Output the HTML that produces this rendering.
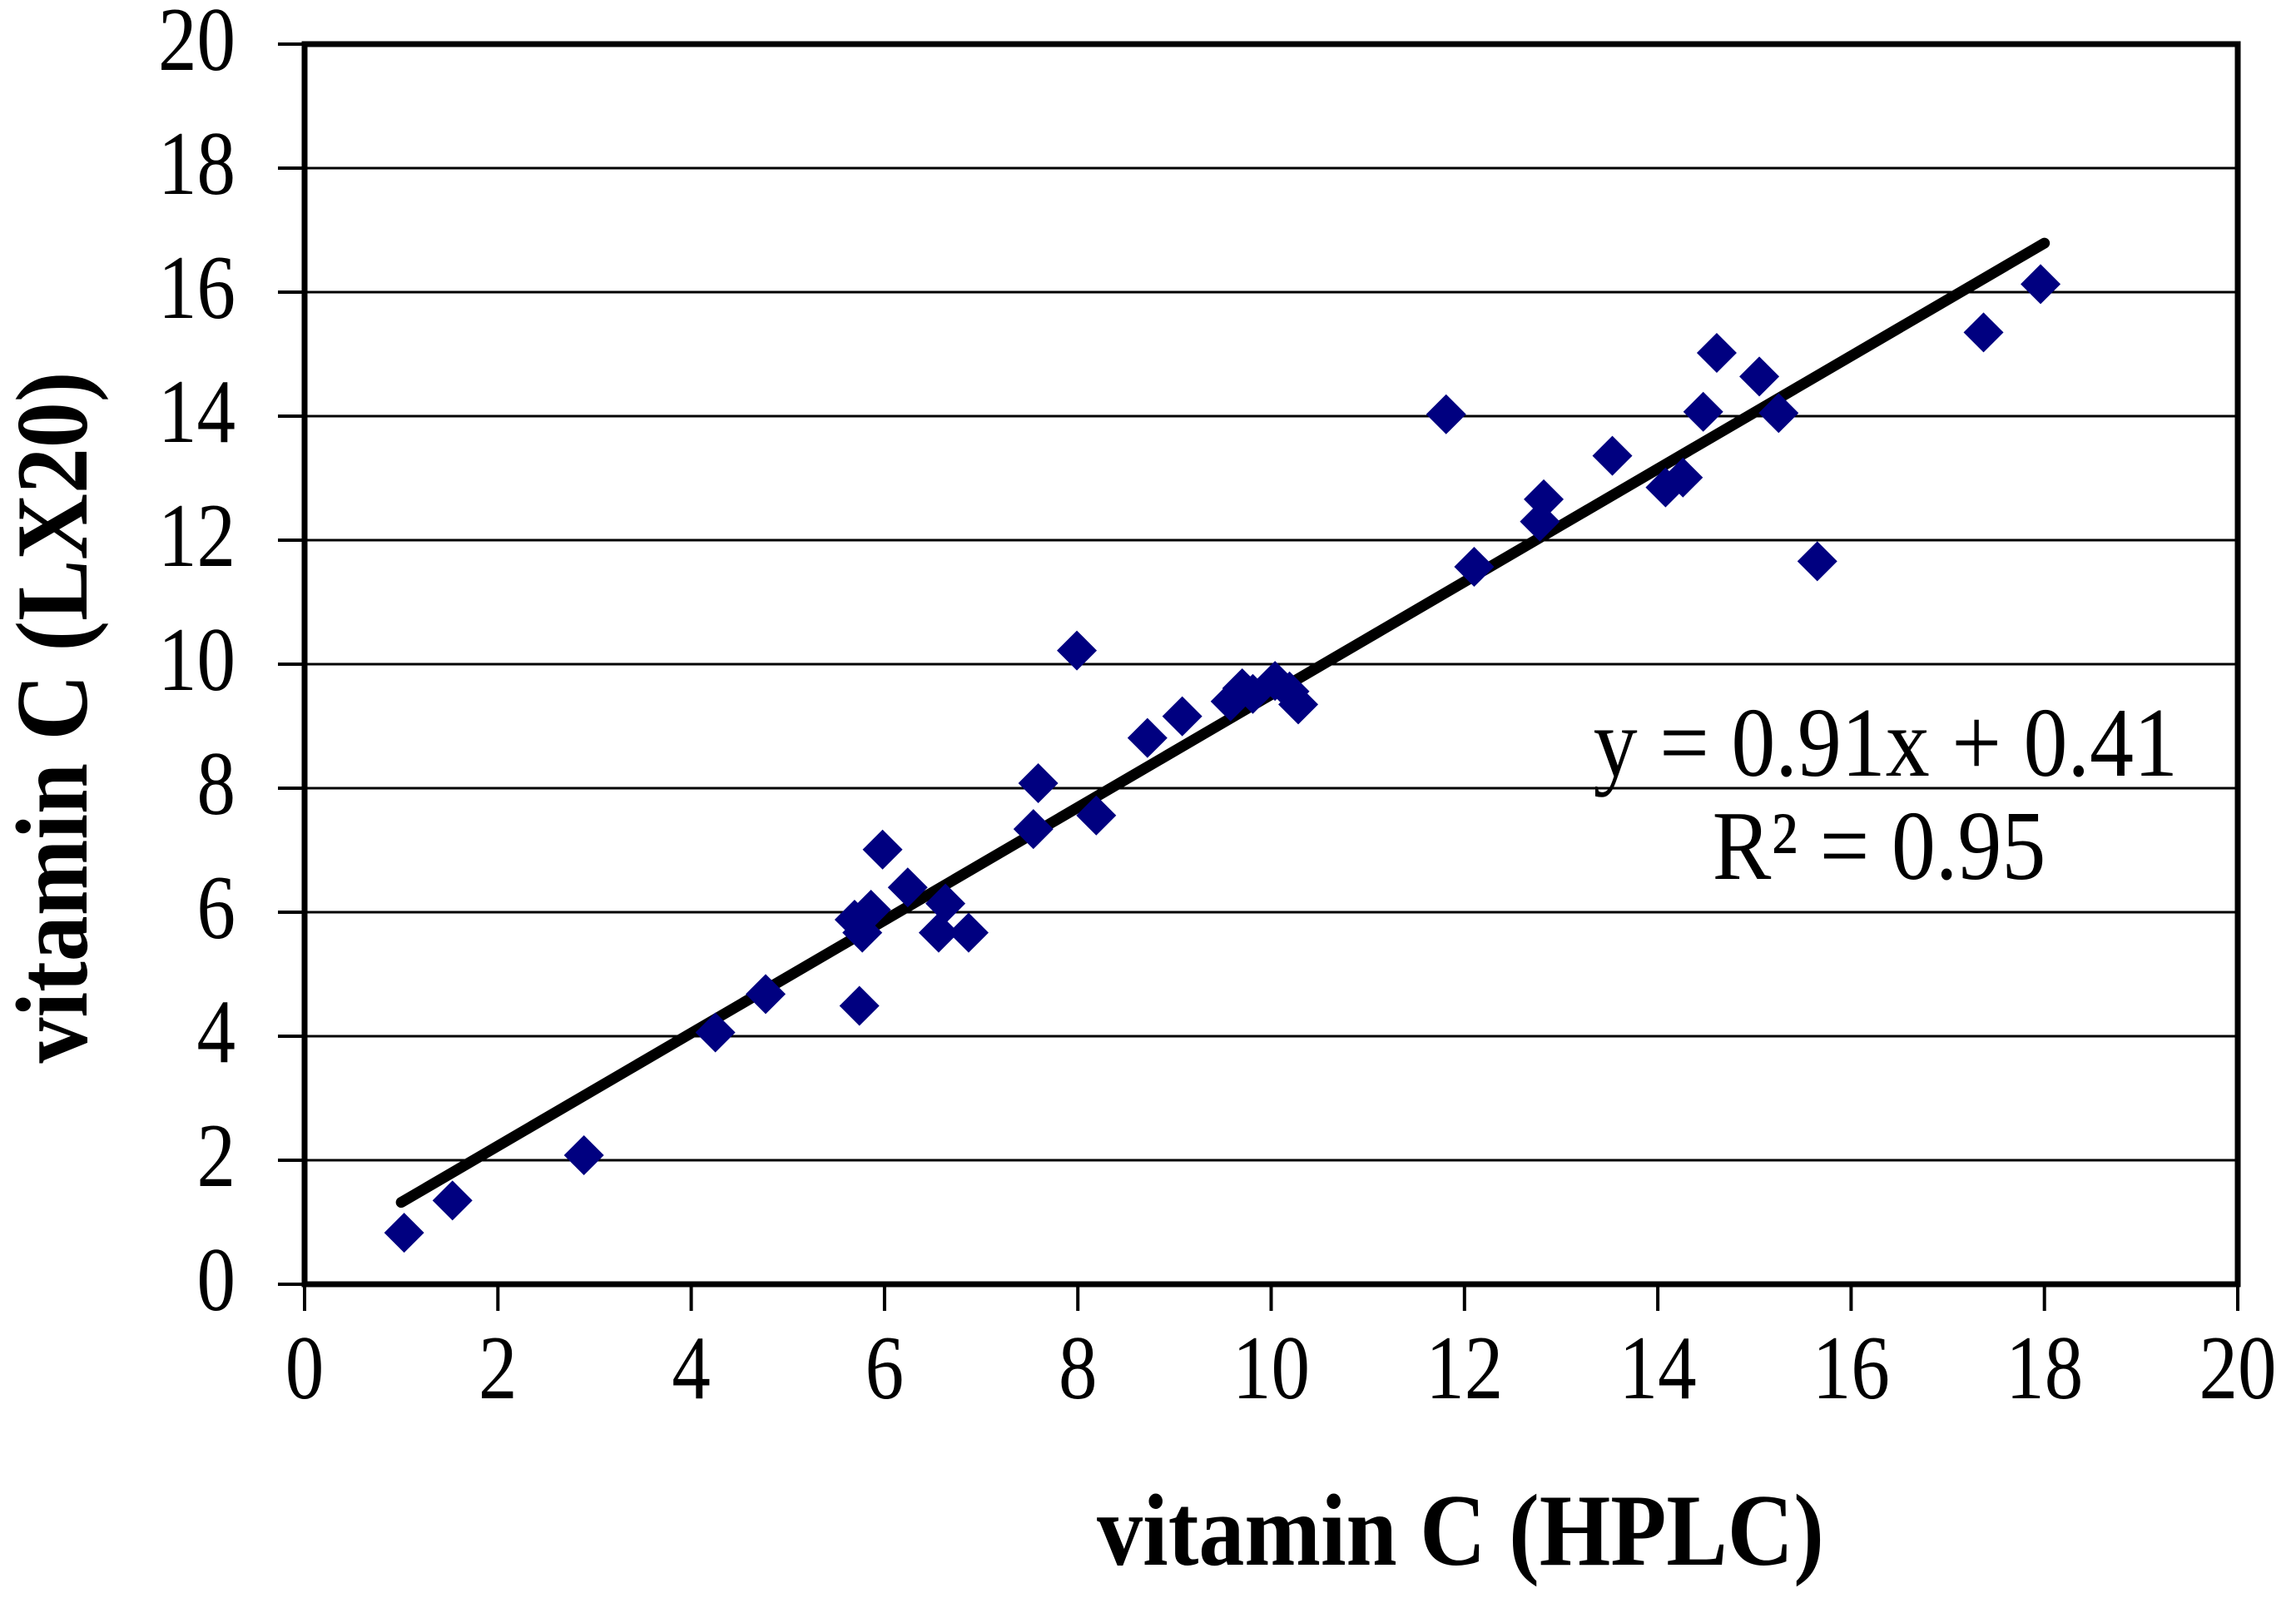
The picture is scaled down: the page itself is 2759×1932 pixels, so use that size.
<!DOCTYPE html>
<html><head><meta charset="utf-8"><style>html,body{margin:0;padding:0;background:#fff}svg{display:block}</style></head>
<body>
<svg id="chart" width="2759" height="1932" viewBox="0 0 2759 1932" xmlns="http://www.w3.org/2000/svg" font-family="'Liberation Serif', serif">
<rect x="0" y="0" width="2759" height="1932" fill="#fff"/>
<g id="grid"></g>
<g id="axes"></g>
<g id="trend"></g>
<g id="points"></g>
<g transform="translate(1755,1880) scale(1,1.12)"><text x="0" y="0" font-size="110" font-weight="bold" text-anchor="middle">vitamin C (HPLC)</text></g>
<g transform="translate(104,862) rotate(-90) scale(1,1.12)"><text x="0" y="0" font-size="110" font-weight="bold" text-anchor="middle">vitamin C (LX20)</text></g>
<g transform="translate(2617,932) scale(1,1.12)"><text x="0" y="0" font-size="106" text-anchor="end">y = 0.91x + 0.41</text></g>
<g transform="translate(2258,1056) scale(1,1.12)"><text x="0" y="0" font-size="106" text-anchor="middle">R² = 0.95</text></g>
</svg>
<script>
const xVals = [1.03,1.53,2.89,4.25,4.77,5.74,5.69,5.77,5.86,5.98,6.24,6.56,6.63,6.87,7.54,7.59,7.99,8.19,8.72,9.08,9.58,9.70,9.81,10.04,10.19,10.28,11.81,12.10,12.78,12.82,13.53,14.08,14.26,14.47,14.61,15.05,15.25,15.65,17.37,17.96];
const yVals = [0.83,1.35,2.08,4.06,4.68,4.49,5.88,5.67,6.04,7.01,6.40,5.67,6.14,5.67,7.34,8.08,10.22,7.56,8.81,9.16,9.40,9.61,9.52,9.73,9.56,9.35,14.03,11.57,12.30,12.66,13.36,12.85,13.01,14.07,15.02,14.64,14.05,11.66,15.35,16.13];
const xTicks = [0,2,4,6,8,10,12,14,16,18,20];
const yTicks = [0,2,4,6,8,10,12,14,16,18,20];
const trendSlope = 0.91;
const trendIntercept = 0.41;
const trendRange = [1,18];

const L=366,R=2689,T=53,B=1543;
const sx=v=>L+(v-0)/(20-0)*(R-L);
const sy=v=>B-(v-0)/(20-0)*(B-T);
const NS='http://www.w3.org/2000/svg';
function mk(tag,parent,attrs){const e=document.createElementNS(NS,tag);for(const k in attrs)e.setAttribute(k,attrs[k]);parent.appendChild(e);return e;}
const grid=document.getElementById('grid'),axes=document.getElementById('axes'),trend=document.getElementById('trend'),pts=document.getElementById('points');
yTicks.forEach(t=>{
  if(t>0&&t<20){const g=mk('line',grid,{x1:L,x2:R,y1:sy(t),y2:sy(t),stroke:'#000','stroke-width':3});
  
  }
  const tk=mk('line',axes,{x1:L-32,x2:L,y1:sy(t),y2:sy(t),stroke:'#000','stroke-width':4});
  
  
  const g2=mk('g',axes,{transform:`translate(283,${sy(t)+31}) scale(1,1.17)`});
  const tx=mk('text',g2,{x:0,y:0,'font-size':93,'text-anchor':'end'});
  tx.textContent=t;
  
  
});
xTicks.forEach(t=>{
  const tk=mk('line',axes,{x1:sx(t),x2:sx(t),y1:B,y2:B+32,stroke:'#000','stroke-width':4});
  
  
  const g2=mk('g',axes,{transform:`translate(${sx(t)},1680) scale(1,1.17)`});
  const tx=mk('text',g2,{x:0,y:0,'font-size':93,'text-anchor':'middle'});
  tx.textContent=t;
  
  
});
const frame=mk('rect',axes,{x:L,y:T,width:R-L,height:B-T,fill:'none',stroke:'#000','stroke-width':7});


const tl=mk('line',trend,{x1:sx(trendRange[0]),y1:sy(trendSlope*trendRange[0]+trendIntercept),x2:sx(trendRange[1]),y2:sy(trendSlope*trendRange[1]+trendIntercept),stroke:'#000','stroke-width':13,'stroke-linecap':'round'});


const d=24;
xVals.forEach((x,i)=>{
  const cx=sx(x),cy=sy(yVals[i]);
  const p=mk('polygon',pts,{points:`${cx},${cy-d} ${cx+d},${cy} ${cx},${cy+d} ${cx-d},${cy}`,fill:'#000080'});
  
  
});
</script>
</body></html>
